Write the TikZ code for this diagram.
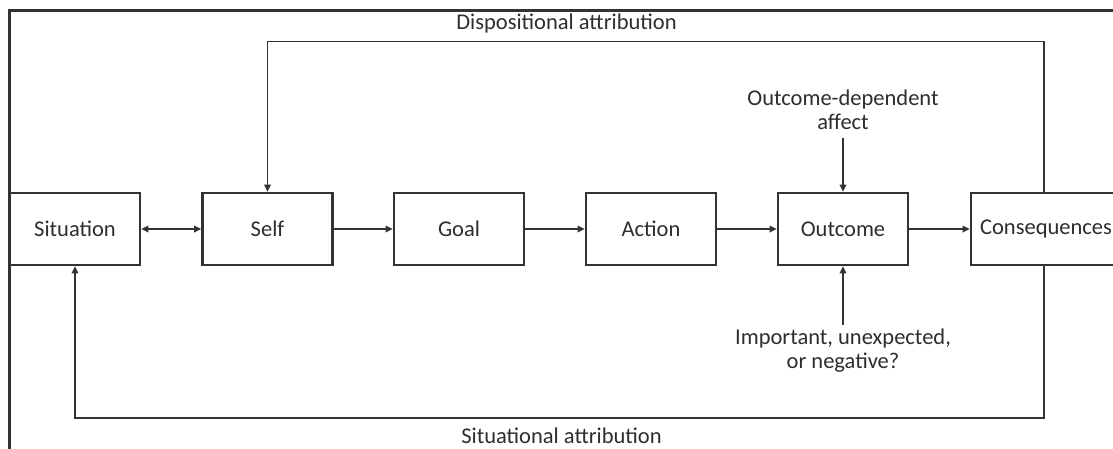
\documentclass[tikz,border=0pt]{standalone}
\usepackage{fontspec}
\setmainfont{Carlito}
\usetikzlibrary{arrows.meta}
\definecolor{ink}{HTML}{333333}
\definecolor{txt}{HTML}{2E2E2E}
\begin{document}
\begin{tikzpicture}[x=1pt,y=-1pt,
  every node/.style={font=\fontsize{22.5}{27}\selectfont, text=txt},
  stagebox/.style={draw=ink, line width=2.6pt, minimum width=130pt, minimum height=72pt, inner sep=0pt, fill=white},
  conn/.style={draw=ink, line width=1.7pt, -{Triangle[length=7pt,width=6.5pt]}},
  lbl/.style={inner sep=0pt, align=center}]
\useasboundingbox (0,0) rectangle (1113,448);
\clip (0,0) rectangle (1113,448);
\fill[white] (0,0) rectangle (1113,448);
% frame
\draw[ink, line width=3pt] (9,470) -- (9,10) -- (1130,10);
% stages
\node[stagebox] (sit) at (75,229) {Situation};
\node[stagebox] (self) at (267.5,229) {Self};
\node[stagebox] (goal) at (459,229) {Goal};
\node[stagebox] (act) at (651,229) {Action};
\node[stagebox] (out) at (843,229) {Outcome};
\node[stagebox, minimum width=150pt] (cons) at (1046,229) {Consequences};
% labels
\node[lbl] (disp) at (566.5,23) {Dispositional attribution};
\node[lbl] (situ) at (561.5,435.5) {Situational attribution};
\node[lbl] (aff) at (843,110) {Outcome-dependent\\[-3pt]affect};
\node[lbl] (imp) at (843,351) {Important, unexpected,\\[-3pt]or negative?};
\coordinate (affend) at (843,138);
\coordinate (impend) at (843,325);
% main chain
\draw[conn, {Triangle[length=7pt,width=6.5pt]}-{Triangle[length=7pt,width=6.5pt]}] (sit) -- (self);
\draw[conn] (self) -- (goal);
\draw[conn] (goal) -- (act);
\draw[conn] (act) -- (out);
\draw[conn] (out) -- (cons);
% side inputs
\draw[conn] (affend) -- (out);
\draw[conn] (impend) -- (out);
% feedback loops
\coordinate (tr) at (1044,41.5);
\coordinate (tl) at (267.5,41.5);
\coordinate (br) at (1044,418);
\coordinate (bl) at (75,418);
\draw[conn] (cons.north -| tr) -- (tr) -- (tl) -- (self.north);
\draw[conn] (cons.south -| br) -- (br) -- (bl) -- (sit.south);
\end{tikzpicture}
\end{document}
